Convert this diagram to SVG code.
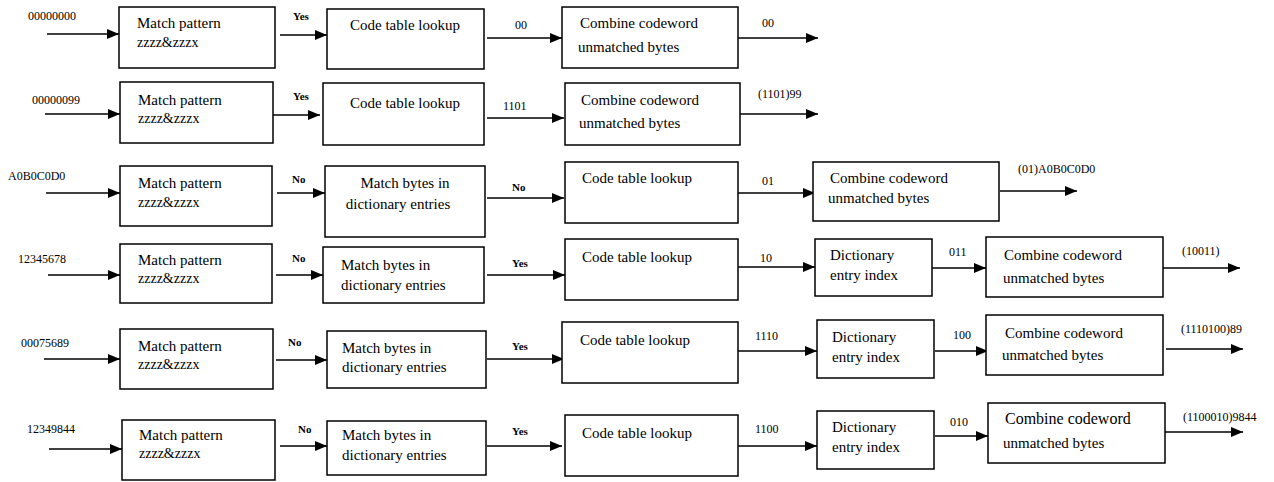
<svg xmlns="http://www.w3.org/2000/svg" width="1274" height="482" viewBox="0 0 1274 482">
<style>
.box{fill:#fff;stroke:#000;stroke-width:1.5}
.t{font-family:"Liberation Serif","Times New Roman",serif;font-size:15px;fill:#000}
.z{font-family:"Liberation Serif","Times New Roman",serif;font-size:14px;fill:#000}
.l{font-family:"Liberation Serif","Times New Roman",serif;font-size:12px;fill:#000}
.yn{font-family:"Liberation Serif","Times New Roman",serif;font-size:11px;font-weight:bold;fill:#000}
.c{stroke:#000;stroke-width:1.5;fill:none;marker-end:url(#ah)}
</style>
<defs>
<marker id="ah" markerUnits="userSpaceOnUse" markerWidth="12" markerHeight="10" refX="12" refY="5" orient="auto">
<path d="M0,0 L12,5 L0,10 z" fill="#000"/>
</marker>
</defs>
<rect width="1274" height="482" fill="#fff"/>

<g id="connectors">
<!-- row 1 -->
<line class="c" x1="47" y1="34" x2="119" y2="34"/>
<line class="c" x1="280" y1="35" x2="327" y2="35"/>
<line class="c" x1="487" y1="38" x2="562" y2="38"/>
<line class="c" x1="738" y1="38" x2="818" y2="38"/>
<!-- row 2 -->
<line class="c" x1="45" y1="114" x2="120" y2="114"/>
<line class="c" x1="273" y1="115" x2="320" y2="115"/>
<line class="c" x1="487" y1="118" x2="564" y2="118"/>
<line class="c" x1="740" y1="114" x2="818" y2="114"/>
<!-- row 3 -->
<line class="c" x1="46" y1="193" x2="120" y2="193"/>
<line class="c" x1="277" y1="193" x2="325" y2="193"/>
<line class="c" x1="487" y1="198" x2="564" y2="198"/>
<line class="c" x1="738" y1="193" x2="815" y2="193"/>
<line class="c" x1="1000" y1="191" x2="1077" y2="191"/>
<!-- row 4 -->
<line class="c" x1="48" y1="275" x2="120" y2="275"/>
<line class="c" x1="276" y1="275" x2="323" y2="275"/>
<line class="c" x1="487" y1="275" x2="565" y2="275"/>
<line class="c" x1="738" y1="267" x2="815" y2="267"/>
<line class="c" x1="932" y1="268" x2="986" y2="268"/>
<line class="c" x1="1163" y1="268" x2="1240" y2="268"/>
<!-- row 5 -->
<line class="c" x1="44" y1="359" x2="120" y2="359"/>
<line class="c" x1="276" y1="360" x2="327" y2="360"/>
<line class="c" x1="487" y1="359" x2="564" y2="359"/>
<line class="c" x1="738" y1="351" x2="817" y2="351"/>
<line class="c" x1="935" y1="351" x2="988" y2="351"/>
<line class="c" x1="1166" y1="349" x2="1243" y2="349"/>
<!-- row 6 -->
<line class="c" x1="49" y1="449" x2="122" y2="449"/>
<line class="c" x1="280" y1="446" x2="327" y2="446"/>
<line class="c" x1="487" y1="446" x2="562" y2="446"/>
<line class="c" x1="738" y1="446" x2="817" y2="446"/>
<line class="c" x1="935" y1="436" x2="988" y2="436"/>
<line class="c" x1="1165" y1="432" x2="1243" y2="432"/>
</g>

<g id="labels">
<text class="l" x="28" y="20">00000000</text>
<text class="yn" x="293" y="20">Yes</text>
<text class="l" x="515" y="29">00</text>
<text class="l" x="762" y="27">00</text>

<text class="l" x="32" y="104">00000099</text>
<text class="yn" x="293" y="100">Yes</text>
<text class="l" x="503" y="110">1101</text>
<text class="l" x="758" y="98">(1101)99</text>

<text class="l" x="8" y="180">A0B0C0D0</text>
<text class="yn" x="292" y="183">No</text>
<text class="yn" x="512" y="191">No</text>
<text class="l" x="762" y="185">01</text>
<text class="l" x="1018" y="173">(01)A0B0C0D0</text>

<text class="l" x="18" y="263">12345678</text>
<text class="yn" x="292" y="262">No</text>
<text class="yn" x="512" y="267">Yes</text>
<text class="l" x="760" y="262">10</text>
<text class="l" x="949" y="256">011</text>
<text class="l" x="1182" y="255">(10011)</text>

<text class="l" x="21" y="347">00075689</text>
<text class="yn" x="288" y="346">No</text>
<text class="yn" x="512" y="350">Yes</text>
<text class="l" x="755" y="340">1110</text>
<text class="l" x="953" y="339">100</text>
<text class="l" x="1181" y="333">(1110100)89</text>

<text class="l" x="27" y="433">12349844</text>
<text class="yn" x="298" y="433">No</text>
<text class="yn" x="512" y="435">Yes</text>
<text class="l" x="755" y="433">1100</text>
<text class="l" x="950" y="426">010</text>
<text class="l" x="1183" y="421">(1100010)9844</text>
</g>

<!-- Row 1 -->
<g id="r1-match"><rect class="box" x="119" y="7" width="156" height="61"/><text class="t" x="137" y="28">Match pattern</text><text class="z" x="137" y="47">zzzz&amp;zzzx</text></g>
<g id="r1-code"><rect class="box" x="327" y="9" width="157" height="60"/><text class="t" x="350" y="30">Code table lookup</text></g>
<g id="r1-comb"><rect class="box" x="562" y="7" width="176" height="61"/><text class="t" x="580" y="28">Combine codeword</text><text class="t" x="578" y="52">unmatched bytes</text></g>

<!-- Row 2 -->
<g id="r2-match"><rect class="box" x="120" y="82" width="153" height="61"/><text class="t" x="138" y="105">Match pattern</text><text class="z" x="138" y="123">zzzz&amp;zzzx</text></g>
<g id="r2-code"><rect class="box" x="323" y="83" width="161" height="62"/><text class="t" x="350" y="108">Code table lookup</text></g>
<g id="r2-comb"><rect class="box" x="565" y="83" width="175" height="62"/><text class="t" x="581" y="105">Combine codeword</text><text class="t" x="579" y="128">unmatched bytes</text></g>

<!-- Row 3 -->
<g id="r3-match"><rect class="box" x="120" y="166" width="152" height="60"/><text class="t" x="138" y="188">Match pattern</text><text class="z" x="138" y="207">zzzz&amp;zzzx</text></g>
<g id="r3-dict"><rect class="box" x="325" y="166" width="160" height="71"/><text class="t" x="405" y="188" text-anchor="middle">Match bytes in</text><text class="t" x="398" y="209" text-anchor="middle">dictionary entries</text></g>
<g id="r3-code"><rect class="box" x="565" y="162" width="173" height="61"/><text class="t" x="582" y="183">Code table lookup</text></g>
<g id="r3-comb"><rect class="box" x="813" y="162" width="186" height="59"/><text class="t" x="830" y="183">Combine codeword</text><text class="t" x="828" y="203">unmatched bytes</text></g>

<!-- Row 4 -->
<g id="r4-match"><rect class="box" x="120" y="244" width="152" height="59"/><text class="t" x="138" y="265">Match pattern</text><text class="z" x="138" y="283">zzzz&amp;zzzx</text></g>
<g id="r4-dict"><rect class="box" x="323" y="247" width="161" height="56"/><text class="t" x="341" y="270">Match bytes in</text><text class="t" x="341" y="290">dictionary entries</text></g>
<g id="r4-code"><rect class="box" x="565" y="239" width="173" height="61"/><text class="t" x="582" y="262">Code table lookup</text></g>
<g id="r4-idx"><rect class="box" x="815" y="239" width="117" height="57"/><text class="t" x="830" y="260">Dictionary</text><text class="t" x="830" y="280">entry index</text></g>
<g id="r4-comb"><rect class="box" x="986" y="237" width="177" height="60"/><text class="t" x="1004" y="260">Combine codeword</text><text class="t" x="1003" y="283">unmatched bytes</text></g>

<!-- Row 5 -->
<g id="r5-match"><rect class="box" x="120" y="329" width="153" height="60"/><text class="t" x="138" y="351">Match pattern</text><text class="z" x="138" y="369">zzzz&amp;zzzx</text></g>
<g id="r5-dict"><rect class="box" x="327" y="331" width="159" height="57"/><text class="t" x="342" y="353">Match bytes in</text><text class="t" x="342" y="372">dictionary entries</text></g>
<g id="r5-code"><rect class="box" x="562" y="322" width="176" height="61"/><text class="t" x="580" y="345">Code table lookup</text></g>
<g id="r5-idx"><rect class="box" x="817" y="320" width="117" height="58"/><text class="t" x="832" y="342">Dictionary</text><text class="t" x="832" y="362">entry index</text></g>
<g id="r5-comb"><rect class="box" x="986" y="315" width="177" height="60"/><text class="t" x="1005" y="338">Combine codeword</text><text class="t" x="1002" y="360">unmatched bytes</text></g>

<!-- Row 6 -->
<g id="r6-match"><rect class="box" x="122" y="420" width="153" height="60"/><text class="t" x="139" y="440">Match pattern</text><text class="z" x="139" y="458">zzzz&amp;zzzx</text></g>
<g id="r6-dict"><rect class="box" x="327" y="421" width="159" height="54"/><text class="t" x="342" y="440">Match bytes in</text><text class="t" x="342" y="460">dictionary entries</text></g>
<g id="r6-code"><rect class="box" x="565" y="415" width="173" height="61"/><text class="t" x="582" y="438">Code table lookup</text></g>
<g id="r6-idx"><rect class="box" x="817" y="411" width="117" height="58"/><text class="t" x="832" y="432">Dictionary</text><text class="t" x="832" y="452">entry index</text></g>
<g id="r6-comb"><rect class="box" x="988" y="403" width="177" height="60"/><text class="t" x="1005" y="424" style="font-size:16px">Combine codeword</text><text class="t" x="1003" y="448">unmatched bytes</text></g>
</svg>
